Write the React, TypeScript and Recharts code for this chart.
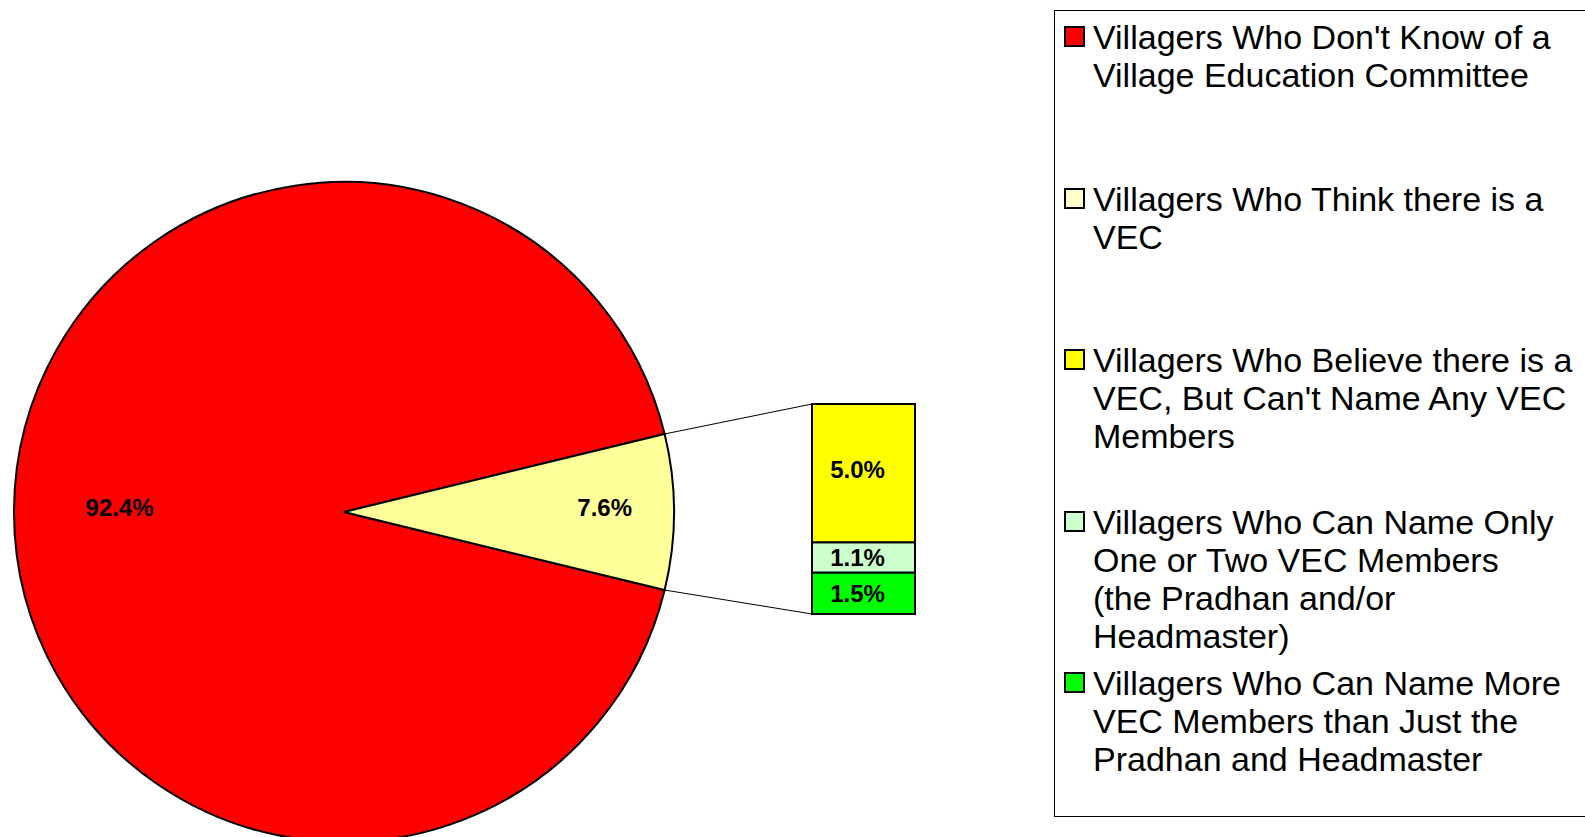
import { PieChart, Pie, Cell, BarChart, Bar, XAxis, YAxis, LabelList } from "recharts";

const pieNames = ["Don't know of a VEC", "Think there is a VEC"];
const pieValues = [92.4, 7.6];
const pieColors = ["#FF0000", "#FFFF99"];

const barKeys = ["yellow", "light", "green"];
const barValues = [5.0, 1.1, 1.5];
const barColors = ["#FFFF00", "#CCFFCC", "#00FF00"];

const legendColors = ["#FF0000", "#FFFFCC", "#FFFF00", "#CCFFCC", "#00FF00"];
const legendLines = [
  ["Villagers Who Don't Know of a", "Village Education Committee"],
  ["Villagers Who Think there is a", "VEC"],
  ["Villagers Who Believe there is a", "VEC, But Can't Name Any VEC", "Members"],
  ["Villagers Who Can Name Only", "One or Two VEC Members", "(the Pradhan and/or", "Headmaster)"],
  ["Villagers Who Can Name More", "VEC Members than Just the", "Pradhan and Headmaster"],
];

const W = 1585;
const H = 837;
const FONT = "'Liberation Sans', Arial, sans-serif";

const CX = 344;
const CY = 512;
const R = 330;
const half = (pieValues[1] / 100) * 360 / 2;

const BAR_X = 812;
const BAR_Y = 404;
const BAR_W = 103;
const BAR_H = 210;
const PAD = 2;

const pieData = pieNames.map((name, i) => ({ name, value: pieValues[i] }));
const barRow: any = { name: "VEC" };
barKeys.forEach((k, i) => (barRow[k] = barValues[i]));
const barData = [barRow];

const RAD = Math.PI / 180;
const labelFrac = [0.68, 0.79];

const renderPieLabel = (p: any) => {
  const r = p.outerRadius * labelFrac[p.index];
  const x = p.cx + r * Math.cos(-p.midAngle * RAD);
  const y = p.cy + r * Math.sin(-p.midAngle * RAD) - 5;
  return (
    <text x={x} y={y} textAnchor="middle" dominantBaseline="central" fill="#000" fontSize={24} fontWeight="bold" fontFamily={FONT}>
      {p.value.toFixed(1)}%
    </text>
  );
};

export default function App() {
  const ex = CX + R * Math.cos(half * RAD);
  const ey1 = CY - R * Math.sin(half * RAD);
  const ey2 = CY + R * Math.sin(half * RAD);
  // stack order bottom -> top
  const stackOrder = [2, 1, 0];

  return (
    <div style={{ position: "absolute", left: 0, top: 0, width: W, height: H, background: "#fff", overflow: "hidden", fontFamily: FONT }}>
      <div style={{ position: "absolute", left: 0, top: 0 }}>
        <PieChart width={W} height={H} margin={{ top: 0, right: 0, bottom: 0, left: 0 }}>
          <Pie
            data={pieData}
            dataKey="value"
            cx={CX}
            cy={CY}
            outerRadius={R}
            startAngle={half}
            endAngle={half + 360}
            stroke="#000"
            strokeWidth={2}
            label={renderPieLabel}
            labelLine={false}
            isAnimationActive={false}
          >
            {pieData.map((d, i) => (
              <Cell key={d.name} fill={pieColors[i]} />
            ))}
          </Pie>
        </PieChart>
      </div>

      <svg style={{ position: "absolute", left: 0, top: 0 }} width={W} height={H}>
        <line x1={ex} y1={ey1} x2={BAR_X} y2={BAR_Y} stroke="#000" strokeWidth={1} />
        <line x1={ex} y1={ey2} x2={BAR_X} y2={BAR_Y + BAR_H} stroke="#000" strokeWidth={1} />
      </svg>

      <div style={{ position: "absolute", left: BAR_X - PAD, top: BAR_Y - PAD }}>
        <BarChart
          width={BAR_W + PAD * 2}
          height={BAR_H + PAD * 2}
          data={barData}
          margin={{ top: PAD, right: PAD, bottom: PAD, left: PAD }}
          barCategoryGap={0}
        >
          <XAxis dataKey="name" hide />
          <YAxis hide domain={[0, pieValues[1]]} />
          {stackOrder.map((i) => (
            <Bar key={barKeys[i]} dataKey={barKeys[i]} stackId="s" fill={barColors[i]} stroke="#000" strokeWidth={2} isAnimationActive={false}>
              <LabelList
                dataKey={barKeys[i]}
                position="center"
                formatter={(v: any) => `${Number(v).toFixed(1)}%`}
                fill="#000"
                fontSize={24}
                fontWeight="bold"
                fontFamily={FONT}
                dx={-6}
                dy={i === 0 ? -4 : 0}
              />
            </Bar>
          ))}
        </BarChart>
      </div>

      <div
        style={{
          position: "absolute",
          left: 1054,
          top: 10,
          width: 560,
          height: 807,
          border: "1px solid #000",
          boxSizing: "border-box",
        }}
      >
        {legendLines.map((lines, i) => (
          <div key={i} style={{ position: "absolute", left: 0, top: 7 + i * 161.5 }}>
            <div
              style={{
                position: "absolute",
                left: 9,
                top: 8,
                width: 21,
                height: 21,
                boxSizing: "border-box",
                border: "2px solid #000",
                background: legendColors[i],
              }}
            />
            <div style={{ position: "absolute", left: 38, top: 0, fontSize: 34, lineHeight: "38px", color: "#000", whiteSpace: "nowrap" }}>
              {lines.map((l) => (
                <div key={l}>{l}</div>
              ))}
            </div>
          </div>
        ))}
      </div>
    </div>
  );
}
